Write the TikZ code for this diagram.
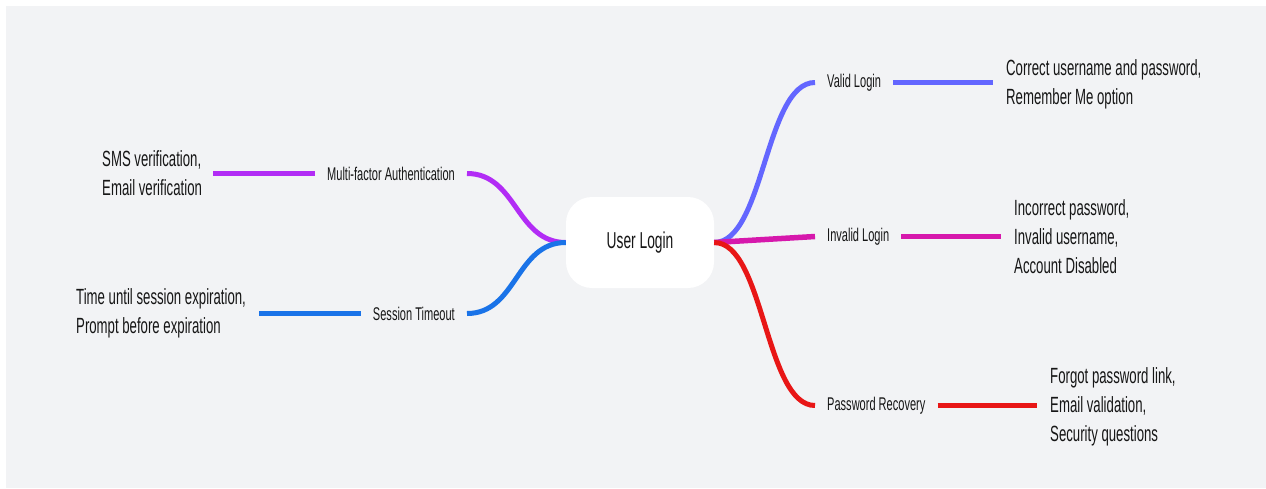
\documentclass[tikz,border=0pt]{standalone}
\usepackage{fontspec}
\setmainfont{Liberation Sans}[FakeStretch=0.6]
\definecolor{bgc}{RGB}{242,243,245}
\definecolor{txt}{RGB}{22,22,22}
\definecolor{cvalid}{RGB}{99,102,255}
\definecolor{cinvalid}{RGB}{214,24,172}
\definecolor{cred}{RGB}{232,22,22}
\definecolor{cpurple}{RGB}{178,44,245}
\definecolor{cblue}{RGB}{26,115,232}
\begin{document}
\begin{tikzpicture}[x=1pt,y=-1pt,
  rootbox/.style={draw=none, fill=white, rounded corners=26pt, minimum width=148pt, minimum height=91pt, text=txt, font=\fontsize{23}{28}\selectfont},
  lab/.style={inner xsep=12pt, inner ysep=2pt, text=txt, font=\fontsize{18.4}{22}\selectfont},
  leaf/.style={inner xsep=0pt, inner ysep=2pt, align=left, text=txt, font=\fontsize{22}{29}\selectfont},
  conn/.style={line width=5pt}
]
\useasboundingbox (0,0) rectangle (1266,488);
\fill[bgc] (6,6) rectangle (1266,488);

\node[rootbox] (root) at (640,242.5) {User Login};

% right side
\node[lab, anchor=west] (valid) at (815,82.5) {Valid Login};
\node[leaf, anchor=west] (validL) at (1006,84) {Correct username and password,\\Remember Me option};
\coordinate (validE) at (993,82.5);

\node[lab, anchor=west] (invalid) at (815,236.5) {Invalid Login};
\node[leaf, anchor=west] (invalidL) at (1014,237) {Incorrect password,\\Invalid username,\\Account Disabled};
\coordinate (invalidE) at (1001,236.5);

\node[lab, anchor=west] (pw) at (815,405.5) {Password Recovery};
\node[leaf, anchor=west] (pwL) at (1050,407) {Forgot password link,\\Email validation,\\Security questions};
\coordinate (pwE) at (1037,405.5);

% left side
\node[lab, anchor=east] (mfa) at (467,173.5) {Multi-factor Authentication};
\node[leaf, anchor=west] (mfaL) at (102,173.5) {SMS verification,\\Email verification};
\coordinate (mfaE) at (213,173.5);

\node[lab, anchor=east] (sess) at (467,313.5) {Session Timeout};
\node[leaf, anchor=west] (sessL) at (76,313.5) {Time until session expiration,\\Prompt before expiration};
\coordinate (sessE) at (259,313.5);

% connectors
\draw[conn, cvalid] (root.east) .. controls +(50,0) and +(-50,0) .. (valid.west);
\draw[conn, cvalid] (valid.east) -- (validE);

\draw[conn, cinvalid, line width=5.5pt] (root.east) -- (invalid.west);
\draw[conn, cinvalid] (invalid.east) -- (invalidE);

\draw[conn, cred] (root.east) .. controls +(50,0) and +(-50,0) .. (pw.west);
\draw[conn, cred] (pw.east) -- (pwE);

\draw[conn, cpurple] (root.west) .. controls +(-50,0) and +(50,0) .. (mfa.east);
\draw[conn, cpurple] (mfa.west) -- (mfaE);

\draw[conn, cblue] (root.west) .. controls +(-50,0) and +(50,0) .. (sess.east);
\draw[conn, cblue] (sess.west) -- (sessE);
\end{tikzpicture}
\end{document}
